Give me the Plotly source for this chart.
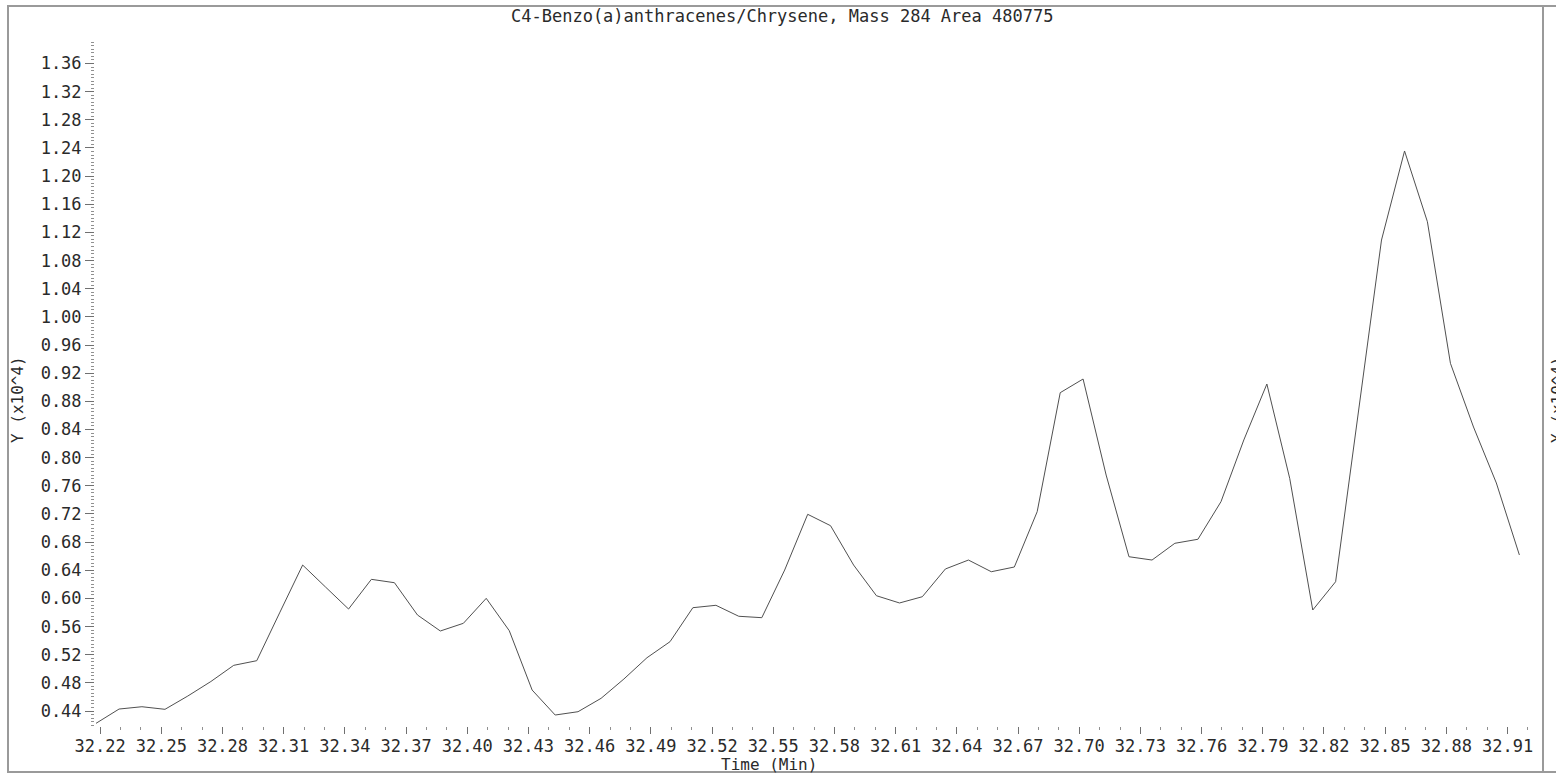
import plotly.graph_objects as go

# ---- data ----
time_min = [
    32.2180, 32.2293, 32.2405, 32.2518, 32.2630, 32.2743, 32.2855, 32.2968,
    32.3080, 32.3193, 32.3305, 32.3418, 32.3530, 32.3643, 32.3756, 32.3868,
    32.3981, 32.4093, 32.4206, 32.4318, 32.4431, 32.4543, 32.4656, 32.4768,
    32.4881, 32.4994, 32.5106, 32.5219, 32.5331, 32.5444, 32.5556, 32.5669,
    32.5781, 32.5894, 32.6006, 32.6119, 32.6231, 32.6344, 32.6457, 32.6569,
    32.6682, 32.6794, 32.6907, 32.7019, 32.7132, 32.7244, 32.7357, 32.7469,
    32.7582, 32.7695, 32.7807, 32.7920, 32.8032, 32.8145, 32.8257, 32.8370,
    32.8482, 32.8595, 32.8707, 32.8820, 32.8933, 32.9045, 32.9158,
]
intensity_e4 = [
    0.4225, 0.4428, 0.4461, 0.4424, 0.4613, 0.4819, 0.5049, 0.5115,
    0.5794, 0.6474, 0.6162, 0.5849, 0.6271, 0.6223, 0.5764, 0.5537,
    0.5646, 0.6001, 0.5541, 0.4698, 0.4343, 0.4390, 0.4580, 0.4855,
    0.5157, 0.5385, 0.5868, 0.5902, 0.5746, 0.5726, 0.6403, 0.7195,
    0.7033, 0.6474, 0.6038, 0.5935, 0.6024, 0.6418, 0.6545, 0.6379,
    0.6446, 0.7232, 0.8923, 0.9117, 0.7753, 0.6592, 0.6545, 0.6783,
    0.6840, 0.7374, 0.8251, 0.9046, 0.7706, 0.5835, 0.6237, 0.8660,
    1.1092, 1.2357, 1.1352, 0.9340, 0.8435, 0.7640, 0.6617,
]
x_tick_start, x_tick_step = 32.22, 0.03
y_tick_start, y_tick_step = 0.44, 0.04
title_text = "C4-Benzo(a)anthracenes/Chrysene, Mass 284 Area 480775"
x_title = "Time (Min)"
y_title = "Y (x10^4)"

# ---- layout geometry (pixels) ----
W, H = 1556, 774
L, R, T, B = 95, 26, 40, 48
pw, ph = W - L - R, H - T - B

def px_x(p):
    return (p - L) / pw

def px_y(p):
    return (H - B - p) / ph

FONT = "DejaVu Sans Mono"
TXT = "#2a2a2a"

fig = go.Figure()
fig.add_trace(go.Scatter(
    x=time_min, y=intensity_e4, mode="lines",
    line=dict(color="#505050", width=1), showlegend=False, hoverinfo="x+y",
))

fig.update_layout(
    width=W, height=H,
    margin=dict(l=L, r=R, t=T, b=B, pad=0),
    paper_bgcolor="white", plot_bgcolor="white",
    font=dict(family=FONT, size=17, color=TXT),
    xaxis=dict(
        range=[32.2175, 32.9210], tickmode="linear", tick0=x_tick_start,
        dtick=x_tick_step, tickformat=".2f", ticks="outside", ticklen=7,
        tickwidth=1, tickcolor="#707070", showgrid=False, zeroline=False,
        showline=False, ticklabelstandoff=-2,
        minor=dict(tick0=x_tick_start, dtick=0.01, ticks="outside",
                   ticklen=3, tickwidth=1, tickcolor="#909090", showgrid=False),
        tickfont=dict(family=FONT, size=17, color=TXT),
    ),
    yaxis=dict(
        range=[0.4187, 1.3934], tickmode="linear", tick0=y_tick_start,
        dtick=y_tick_step, tickformat=".2f", ticks="outside", ticklen=9,
        tickwidth=1, tickcolor="#707070", showgrid=False, zeroline=False,
        showline=False,
        minor=dict(tick0=y_tick_start, dtick=0.005, ticks="outside",
                   ticklen=3, tickwidth=1, tickcolor="#909090", showgrid=False),
        tickfont=dict(family=FONT, size=17, color=TXT),
    ),
)

border = dict(color="#9a9a9a", width=2)
fig.add_shape(type="rect", xref="paper", yref="paper",
              x0=px_x(8), x1=px_x(1543), y0=px_y(772), y1=px_y(6),
              line=border, fillcolor="rgba(0,0,0,0)", layer="below")
fig.add_shape(type="line", xref="paper", yref="paper",
              x0=px_x(1543), x1=px_x(1560), y0=px_y(772), y1=px_y(772), line=border)
fig.add_shape(type="line", xref="paper", yref="paper",
              x0=px_x(1543), x1=px_x(1560), y0=px_y(6), y1=px_y(6), line=border)

fig.add_annotation(text=title_text, xref="paper", yref="paper",
                   x=px_x(782), y=px_y(16), xanchor="center", yanchor="middle",
                   showarrow=False, font=dict(family=FONT, size=17, color=TXT))
fig.add_annotation(text=x_title, xref="paper", yref="paper",
                   x=px_x(769), y=px_y(764), xanchor="center", yanchor="middle",
                   showarrow=False, font=dict(family=FONT, size=16, color=TXT))
fig.add_annotation(text=y_title, xref="paper", yref="paper", textangle=-90,
                   x=px_x(18), y=px_y(400), xanchor="center", yanchor="middle",
                   showarrow=False, font=dict(family=FONT, size=16, color=TXT))
fig.add_annotation(text=y_title, xref="paper", yref="paper", textangle=-90,
                   x=px_x(1558), y=px_y(400), xanchor="center", yanchor="middle",
                   showarrow=False, font=dict(family=FONT, size=16, color=TXT))

fig.write_html(
    "out.html",
    config={"displayModeBar": False},
    post_script="document.body.style.margin='0';document.body.style.overflow='hidden';",
)
